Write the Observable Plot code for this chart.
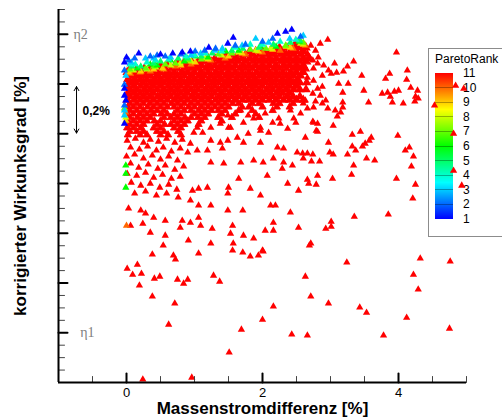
<!DOCTYPE html>
<html><head><meta charset="utf-8">
<script src="https://cdn.jsdelivr.net/npm/d3@7"></script>
<script src="https://cdn.jsdelivr.net/npm/@observablehq/plot@0.6"></script>
<style>
body{margin:0;background:#fff;font-family:"Liberation Sans",Arial,sans-serif;}
#wrap{position:relative;width:502px;height:419px;overflow:hidden;background:#fff;}
#legend{position:absolute;left:428px;top:48px;width:80px;height:187px;border:1px solid #8c8c8c;background:#fff;}
#chart{position:absolute;left:0;top:0;}
.lg-title{position:absolute;left:6px;top:3px;font-size:12px;color:#000;white-space:nowrap;}
.lg-bar{position:absolute;left:6px;top:24px;width:18px;height:146px;}
.lg-line{position:absolute;left:0;width:18px;height:1px;background:rgba(0,0,0,0.3);}
.lg-lab{position:absolute;left:34px;font-size:12px;line-height:12px;color:#000;}
</style></head><body>
<div id="wrap"><div id="legend"></div><div id="chart"></div></div>
<script>
// ---- data ----
const ranks = [1,2,3,4,5,6,7,8,9,10,11];
const rankColors = ["#0000ff","#0066ff","#00ccff","#00ffcc","#00ff66","#00ff00","#66ff00","#ccff00","#ffcc00","#ff6600","#ff0000"];
const xMajor = [0,2,4];
const xMinor = [-0.5,0.5,1,1.5,2.5,3,3.5,4.5,5];
const yMajor = [0.2,0.4,0.6,0.8,1.0,1.2,1.4];
const yMinor = [0.05,0.1,0.15,0.25,0.3,0.35,0.45,0.5,0.55,0.65,0.7,0.75,0.85,0.9,0.95,1.05,1.1,1.15,1.25,1.3,1.35,1.45,1.5];
const etaLabels = [{label:"η2", x:-0.78, y:1.4},{label:"η1", x:-0.68, y:0.2}];
const arrowSegs = [{x:-0.735, y1:1.1, y2:1.19},{x:-0.735, y1:1.1, y2:1.003}];
const arrowText = [{label:"0,2%", x:-0.647, y:1.09}];
const xTitle = "Massenstromdifferenz [%]";
const yTitle = "korrigierter Wirkunksgrad [%]";

// dense core of rank-11 points, read row by row (solid area)
const coreRowY = [1.360,1.346,1.332,1.318,1.304,1.290,1.276,1.262,1.248,1.234,1.220,1.206,1.192,1.178,1.164,1.150,1.136];
const coreRowX = [
 [2.48,2.57],
 [2.16,2.25,2.36,2.45,2.55,2.64],
 [1.81,1.90,2.00,2.11,2.20,2.30,2.41,2.50,2.60],
 [1.46,1.55,1.66,1.75,1.85,1.96,2.05,2.15,2.26,2.35,2.45,2.56,2.66],
 [1.10,1.20,1.30,1.41,1.50,1.60,1.70,1.81,1.90,2.00,2.10,2.20,2.31,2.40,2.50,2.60,2.69],
 [0.76,0.85,0.96,1.05,1.15,1.25,1.36,1.45,1.55,1.65,1.75,1.86,1.95,2.05,2.15,2.26,2.35,2.45,2.55,2.65],
 [0.41,0.50,0.60,0.71,0.80,0.90,1.00,1.10,1.21,1.30,1.40,1.50,1.60,1.71,1.80,1.90,2.00,2.10,2.20,2.31,2.40,2.50,2.60],
 [0.05,0.15,0.26,0.35,0.45,0.55,0.66,0.75,0.85,0.95,1.05,1.16,1.25,1.35,1.45,1.55,1.66,1.75,1.85,1.95,2.05,2.16,2.25,2.35,2.45,2.55,2.63],
 [0.01,0.10,0.20,0.31,0.40,0.50,0.60,0.70,0.81,0.90,1.00,1.10,1.20,1.31,1.40,1.50,1.60,1.70,1.80,1.91,2.00,2.10,2.20,2.30,2.41,2.50,2.60],
 [0.05,0.16,0.25,0.35,0.45,0.56,0.65,0.75,0.85,0.95,1.06,1.15,1.25,1.35,1.46,1.55,1.65,1.75,1.85,1.96,2.05,2.15,2.25,2.35,2.45,2.56],
 [0.02,0.11,0.20,0.30,0.41,0.50,0.60,0.70,0.80,0.91,1.00,1.10,1.21,1.30,1.40,1.50,1.61,1.70,1.80,1.90,2.01,2.10,2.20,2.30,2.40,2.51],
 [0.06,0.15,0.25,0.36,0.45,0.55,0.65,0.76,0.85,0.95,1.05,1.15,1.26,1.35,1.45,1.55,1.65,1.76,1.85,1.95,2.05,2.15,2.26,2.35,2.45,2.55,2.65],
 [0.01,0.10,0.21,0.30,0.40,0.50,0.61,0.70,0.80,0.90,1.01,1.10,1.20,1.30,1.41,1.50,1.60,1.70,1.81,1.90,2.00,2.11,2.20,2.30,2.40,2.50],
 [0.05,0.15,0.26,0.35,0.45,0.55,0.65,0.75,0.86,0.95,1.05,1.16,1.25,1.35,1.45,1.56,1.65,1.75,1.85,1.95,2.06,2.15,2.25,2.35,2.46,2.55,2.64],
 [0.02,0.10,0.20,0.30,0.40,0.51,0.60,0.70,0.80,0.90,1.00,1.11,1.20,1.30,1.40,1.51,1.60,1.70,1.80,1.90,2.00,2.10,2.21,2.30,2.40],
 [0.05,0.15,0.25,0.35,0.46,0.55,0.65,0.75,0.85,0.96,1.05,1.15,1.25,1.36,1.45,1.55,1.65,1.75,1.86,1.95,2.05,2.15,2.25,2.36,2.45,2.55],
 [0.01,0.11,0.20,0.30,0.40,0.50,0.60,0.71,0.80,0.90,1.00,1.10,1.20,1.31,1.40,1.50,1.60,1.71,1.80,1.90,2.00,2.10,2.20,2.31,2.40,2.50,2.60]
];
// lower fringe of the dense cloud, read row by row (ragged, with holes)
const fringeRowY = [1.122,1.108,1.094,1.080,1.066,1.052,1.038,1.024,1.010,0.996];
const fringeRowX = [
 [0.05,0.15,0.25,0.35,0.45,0.55,0.66,0.75,0.85,0.95,1.05,1.15,1.25,1.35,1.45,1.56,1.65,1.85,1.95,2.16,2.25,2.45],
 [0.02,0.10,0.20,0.31,0.40,0.50,0.60,0.70,0.80,0.91,1.00,1.10,1.20,1.30,1.40,1.50,1.70,1.80,2.00,2.21,2.40],
 [0.05,0.15,0.25,0.36,0.45,0.55,0.75,0.85,0.95,1.06,1.15,1.25,1.35,1.45,1.65,1.85,2.15],
 [0.01,0.10,0.20,0.30,0.40,0.51,0.60,0.70,0.80,1.00,1.10,1.20,1.40,1.60,1.90],
 [0.05,0.16,0.25,0.35,0.55,0.65,0.75,0.86,0.95,1.05,1.15,1.35,1.55,1.95],
 [0.02,0.10,0.20,0.30,0.41,0.50,0.70,0.80,0.90,1.10,1.40],
 [0.05,0.15,0.25,0.45,0.56,0.65,0.75,0.85,1.06],
 [0.01,0.10,0.21,0.40,0.50,0.70,0.80],
 [0.05,0.15,0.25,0.45,0.55,0.76],
 [0.02,0.20,0.30,0.50,0.61,0.80]
];

// scattered rank-11 points [x, y]
const scatter = [
 [2.71,1.355],[2.85,1.363],[2.96,1.379],[2.60,1.343],[2.78,1.335],[2.82,1.307],[2.74,1.295],[2.81,1.283],[2.90,1.275],[2.75,1.263],[2.60,1.246],[2.88,1.234],[2.66,1.226],[2.75,1.214],[2.88,1.190],[2.81,1.182],[2.74,1.162],[2.85,1.154],[2.63,1.134],[2.78,1.130],[2.93,1.134],[2.88,1.122],[2.66,1.102],[2.96,1.102],[2.74,1.049],[2.81,1.041],[2.79,1.013],
 [3.06,1.283],[2.97,1.255],[3.01,1.242],[3.09,1.246],[3.19,1.251],[3.25,1.271],[3.34,1.291],[3.12,1.202],[3.26,1.202],[3.18,1.166],[3.18,1.126],[3.18,1.106],[3.15,1.086],[3.07,1.094],[3.10,1.070],[3.04,1.033],
 [3.46,1.234],[3.49,1.174],[3.56,1.126],[3.32,0.997],[3.44,1.009],[3.60,0.985],[3.99,0.993],[3.76,1.162],[3.84,1.166],[3.94,1.170],[4.00,1.174],[3.88,1.150],[3.91,1.126],[4.07,1.122],[4.24,1.130],[4.12,1.218],[3.81,1.222],[3.87,1.242],[3.97,1.327],[4.13,1.255],[4.18,1.186],[4.28,1.174],[4.25,1.150],[4.29,1.142],[4.84,1.194],[4.96,1.182],[4.53,1.114],
 [2.81,1.009],[3.57,0.973],[3.51,0.961],[3.47,0.949],[2.63,0.985],[2.97,0.965],[3.32,0.949],[3.37,0.933],[2.59,0.921],[2.66,0.921],[2.74,0.917],[2.60,0.901],[2.72,0.889],[2.84,0.889],[2.99,0.925],[3.04,0.917],[3.25,0.917],[3.53,0.901],[3.65,0.893],[4.10,0.933],[4.16,0.945],[4.22,0.909],[4.19,0.869],[3.34,0.873],[3.31,0.836],[2.81,0.832],[2.66,0.816],[2.68,0.800],[2.79,0.796],[3.03,0.820],[3.97,0.820],[4.25,0.796],[4.21,0.740],[4.93,0.792],[4.81,1.001],[4.81,0.852],[3.85,0.676],[3.35,0.667],[3.01,0.647],[3.01,0.627],[2.93,0.619],[2.69,0.551],
 [4.32,0.499],[4.76,0.487],[3.24,0.483],[2.63,0.426],[4.22,0.434],[4.29,0.374],[2.71,0.346],[2.97,0.318],[3.43,0.302],[3.53,0.281],[4.12,0.261],[4.75,0.217],[2.66,0.189],[3.78,0.189],
 [0.38,0.515],[0.69,0.511],[0.72,0.495],[1.06,0.519],[1.56,0.531],[1.71,0.523],[1.82,0.507],[1.94,0.511],[2.01,0.527],[0.01,0.458],[0.16,0.474],[0.09,0.434],[0.22,0.438],[0.19,0.390],[0.41,0.418],[0.49,0.426],[0.75,0.414],[0.84,0.398],[0.90,0.414],[1.28,0.430],[1.37,0.406],[0.38,0.346],[0.71,0.318],[0.62,0.233],[1.69,0.213],[2.00,0.253],[2.16,0.306],[2.43,0.193],[1.51,0.121],[0.24,0.012],[0.96,0.020],
 [1.50,1.025],[1.79,1.001],[2.09,1.005],[1.97,0.965],[1.72,0.965],[1.63,0.985],[1.49,0.973],[1.38,0.965],[1.24,0.973],[1.12,1.005],[0.99,1.005],
 [1.04,0.933],[1.19,0.933],[1.41,0.941],[1.24,0.885],[1.43,0.881],[1.68,0.885],[1.87,0.893],[2.01,0.885],[2.22,0.945],[2.31,0.941],[2.51,0.925],[2.16,0.901],[2.31,0.885],[2.44,0.873],[2.29,0.860],
 [0.97,0.772],[1.06,0.780],[1.19,0.784],[1.50,0.784],[1.82,0.780],[2.07,0.832],[2.37,0.800],[2.53,0.772],[1.65,0.820],[1.97,0.752],[1.49,0.760],[0.94,0.732],[1.06,0.712],[1.24,0.712],[1.49,0.692],[1.71,0.692],[2.12,0.712],[2.19,0.712],[2.41,0.684],
 [0.03,0.700],[0.21,0.692],[0.28,0.680],[0.40,0.663],[0.57,0.651],[0.82,0.651],[0.06,0.631],[0.24,0.639],[0.35,0.603],[0.57,0.591],[0.79,0.623],[0.94,0.643],[1.06,0.663],[1.09,0.631],[1.26,0.619],[1.56,0.631],[1.53,0.599],[1.72,0.591],[1.87,0.579],[2.04,0.611],[2.16,0.611],[2.16,0.643],[2.53,0.623],[2.71,0.559],[0.91,0.571],[1.24,0.559],[1.57,0.559],[2.00,0.531],[0.54,0.551],
 [1.68,1.094],[1.87,1.062],[2.04,1.082],[2.24,1.062],[2.46,1.062],[2.75,1.045],[1.53,1.025],[1.72,1.045],[1.97,1.025],[2.26,1.041],[2.49,1.045],[1.38,1.041],[1.49,1.074],[1.79,1.074],[2.15,1.045],[2.41,1.094],[2.56,1.082],[1.04,1.025],[1.24,1.025],[1.97,1.013],[2.37,1.021],[2.75,1.106],[2.60,1.122],
 [0.01,0.973],[0.13,0.981],[0.25,0.965],[0.35,0.977],[0.47,0.969],[0.59,0.981],[0.71,0.965],[0.82,0.977],[0.94,0.961],
 [0.06,0.945],[0.19,0.937],[0.31,0.949],[0.44,0.933],[0.54,0.945],[0.66,0.929],[0.79,0.941],[0.90,0.925],
 [0.00,0.909],[0.12,0.917],[0.25,0.901],[0.38,0.913],[0.50,0.897],[0.62,0.909],[0.75,0.893],
 [0.06,0.881],[0.18,0.864],[0.32,0.877],[0.46,0.860],[0.57,0.873],[0.71,0.856],[0.84,0.869],
 [0.01,0.840],[0.15,0.832],[0.28,0.844],[0.40,0.824],[0.53,0.836],[0.66,0.820],[0.79,0.828],
 [0.07,0.804],[0.21,0.792],[0.35,0.800],[0.49,0.784],[0.62,0.796],[0.74,0.776],
 [0.12,0.760],[0.28,0.768],[0.44,0.752],[0.59,0.760],[0.76,0.744]
];

// Pareto front and near-front points [x, y, rank]
const frontier = [
 [0,1.307,1],[0.18,1.323,1],[0.5,1.319,1],[0.68,1.323,1],[0.82,1.327,1],[0.94,1.331,1],[1.21,1.347,1],[1.49,1.363,1],[1.57,1.387,1],[2.22,1.403,1],[2.34,1.411,1],[2.43,1.419,1],[-0.03,1.287,1],[-0.03,1.182,1],[-0.03,1.154,1],[-0.01,1.134,1],[-0.03,1.041,1],
 [0.03,1.295,2],[0.35,1.311,2],[0.57,1.311,2],[1.01,1.331,2],[1.31,1.343,2],[1.75,1.359,2],[2.0,1.371,2],[2.56,1.391,2],[-0.03,1.255,2],[-0.03,1.198,2],[-0.03,1.114,2],
 [0.12,1.303,2],[0.45,1.315,2],[0.80,1.319,2],[1.15,1.335,2],[1.60,1.355,2],[2.15,1.383,2],
 [0.07,1.287,3],[0.28,1.303,3],[0.65,1.307,3],[1.09,1.323,3],[1.41,1.343,3],[1.90,1.383,3],[2.09,1.367,3],[2.60,1.395,3],[-0.01,1.234,3],[-0.03,1.094,3],[-0.03,1.074,3],
 [0.40,1.303,3],[0.95,1.315,3],[1.30,1.335,3],[1.70,1.355,3],[2.40,1.383,3],
 [0.13,1.279,4],[0.43,1.295,4],[0.87,1.311,4],[1.16,1.323,4],[1.60,1.347,4],[1.82,1.359,4],[2.26,1.371,4],[2.49,1.379,4],
 [0.05,1.279,4],[0.30,1.287,4],[0.62,1.299,4],[1.00,1.315,4],[1.40,1.331,4],[2.00,1.359,4],
 [0.21,1.271,5],[0.5,1.291,5],[0.76,1.303,5],[1.26,1.323,5],[1.71,1.343,5],[2.16,1.359,5],[2.41,1.367,5],
 [0.08,1.271,5],[0.40,1.283,5],[0.90,1.303,5],[1.10,1.311,5],[1.55,1.335,5],[1.95,1.347,5],[2.55,1.375,5],
 [0.16,1.263,6],[0.35,1.279,6],[0.65,1.295,6],[1.01,1.311,6],[1.46,1.331,6],[1.97,1.351,6],[2.54,1.371,6],[-0.01,0.873,6],[-0.01,0.840,6],[-0.01,0.784,6],
 [0.45,1.275,6],[0.85,1.291,6],[1.20,1.307,6],[1.65,1.335,6],[2.20,1.351,6],
 [0.28,1.263,7],[0.57,1.279,7],[0.91,1.295,7],[1.35,1.319,7],[1.82,1.339,7],[2.34,1.355,7],[-0.03,1.102,7],
 [0.05,1.259,7],[0.40,1.271,7],[0.72,1.283,7],[1.10,1.299,7],[1.55,1.323,7],[2.05,1.343,7],[2.60,1.367,7],
 [0.10,1.255,8],[0.43,1.267,8],[0.79,1.283,8],[1.16,1.303,8],[1.65,1.327,8],[2.12,1.343,8],[2.56,1.363,8],[-0.01,1.066,8],
 [0.30,1.259,8],[0.65,1.275,8],[0.95,1.291,8],[1.40,1.315,8],[1.90,1.335,8],[2.35,1.351,8],
 [0.21,1.251,9],[0.53,1.263,9],[1.01,1.287,9],[1.50,1.311,9],[1.94,1.331,9],[2.41,1.347,9],[-0.01,1.053,9],
 [0.03,1.247,9],[0.40,1.259,9],[0.80,1.275,9],[1.20,1.299,9],[1.70,1.323,9],[2.15,1.339,9],[2.60,1.359,9],
 [0.06,1.242,10],[0.35,1.251,10],[0.72,1.271,10],[1.24,1.295,10],[1.75,1.319,10],[2.26,1.335,10],[2.63,1.355,10],[0,0.631,10],[-0.01,1.086,10],
 [0.20,1.247,10],[0.55,1.259,10],[0.95,1.279,10],[1.45,1.303,10],[2.00,1.327,10],[2.45,1.343,10]
];

// ---- assemble ----
const corePoints = [];
coreRowY.forEach((y, i) => coreRowX[i].forEach(x => corePoints.push({x, y, rank: 11})));
const fringePoints = [];
fringeRowY.forEach((y, i) => fringeRowX[i].forEach(x => fringePoints.push({x, y, rank: 11})));
const points = [];
scatter.forEach(([x, y]) => points.push({x, y, rank: 11}));
frontier.slice().sort((a, b) => b[2] - a[2]).forEach(([x, y, rank]) => points.push({x, y, rank}));

// ---- legend (under the plot, as in the original) ----
const legend = document.getElementById("legend");
const barTop = 24, barH = 146, step = barH / 10;
legend.innerHTML = `<div class="lg-title">ParetoRank</div>`;
const bar = document.createElement("div");
bar.className = "lg-bar";
bar.style.background = `linear-gradient(to top, ${rankColors[0]} 0%, #00ffff 25%, #00ff00 50%, #ffff00 75%, ${rankColors[10]} 100%)`;
legend.appendChild(bar);
ranks.forEach(r => {
  const yy = (11 - r) * step;
  if (r > 1 && r < 11) {
    const ln = document.createElement("div");
    ln.className = "lg-line"; ln.style.top = (yy - 0.5) + "px";
    bar.appendChild(ln);
  }
  const lab = document.createElement("div");
  lab.className = "lg-lab"; lab.textContent = r;
  lab.style.top = (barTop + yy - 6) + "px";
  legend.appendChild(lab);
});

// ---- plot ----
const tickShape = {draw(ctx, l) { ctx.moveTo(0, 0); ctx.lineTo(0, -l); }};
const chart = Plot.plot({
  width: 502, height: 419,
  marginLeft: 58, marginRight: 36, marginTop: 9, marginBottom: 37,
  style: {background: "transparent", overflow: "visible", fontFamily: "'Liberation Sans', Arial, sans-serif"},
  x: {domain: [-1, 5], axis: null},
  y: {domain: [0, 1.5], axis: null},
  color: {type: "ordinal", domain: ranks, range: rankColors},
  marks: [
    Plot.dot(corePoints, {x: "x", y: "y", fill: "rank", stroke: "rank", strokeWidth: 1.3, symbol: "triangle", r: 2.7}),
    Plot.dot(fringePoints, {x: "x", y: "y", fill: "rank", stroke: "rank", strokeWidth: 0.9, symbol: "triangle", r: 2.7}),
    Plot.dot(points, {x: "x", y: "y", fill: "rank", symbol: "triangle", r: 2.7, stroke: null}),
    Plot.vector(xMinor, {x: d => d, frameAnchor: "bottom", length: 6, rotate: 0, anchor: "start", shape: tickShape, stroke: "#444", strokeWidth: 1}),
    Plot.vector(xMajor, {x: d => d, frameAnchor: "bottom", length: 9, rotate: 0, anchor: "start", shape: tickShape, stroke: "#000", strokeWidth: 2}),
    Plot.vector(yMinor, {y: d => d, frameAnchor: "left", length: 6, rotate: 90, anchor: "start", shape: tickShape, stroke: "#444", strokeWidth: 1}),
    Plot.vector(yMajor, {y: d => d, frameAnchor: "left", length: 9, rotate: 90, anchor: "start", shape: tickShape, stroke: "#000", strokeWidth: 2}),
    Plot.ruleX([-1], {stroke: "#000", strokeWidth: 2}),
    Plot.ruleY([0], {stroke: "#000", strokeWidth: 2}),
    Plot.axisX(xMajor, {tickSize: 0, tickPadding: 5, fontSize: 13, label: null}),
    Plot.text(etaLabels, {x: "x", y: "y", text: "label", textAnchor: "start", fill: "#808080", fontSize: 14, fontFamily: "'Liberation Serif', serif"}),
    Plot.arrow(arrowSegs, {x1: "x", x2: "x", y1: "y1", y2: "y2", stroke: "#000", strokeWidth: 1, headLength: 7}),
    Plot.text(arrowText, {x: "x", y: "y", text: "label", textAnchor: "start", fontWeight: "bold", fontSize: 12}),
    Plot.text([xTitle], {text: d => d, frameAnchor: "bottom", dy: 26, lineAnchor: "middle", textAnchor: "middle", fontWeight: "bold", fontSize: 17}),
    Plot.text([yTitle], {text: d => d, frameAnchor: "left", rotate: -90, dx: -38, lineAnchor: "middle", textAnchor: "middle", fontWeight: "bold", fontSize: 17})
  ]
});
document.getElementById("chart").appendChild(chart);
</script></body></html>
